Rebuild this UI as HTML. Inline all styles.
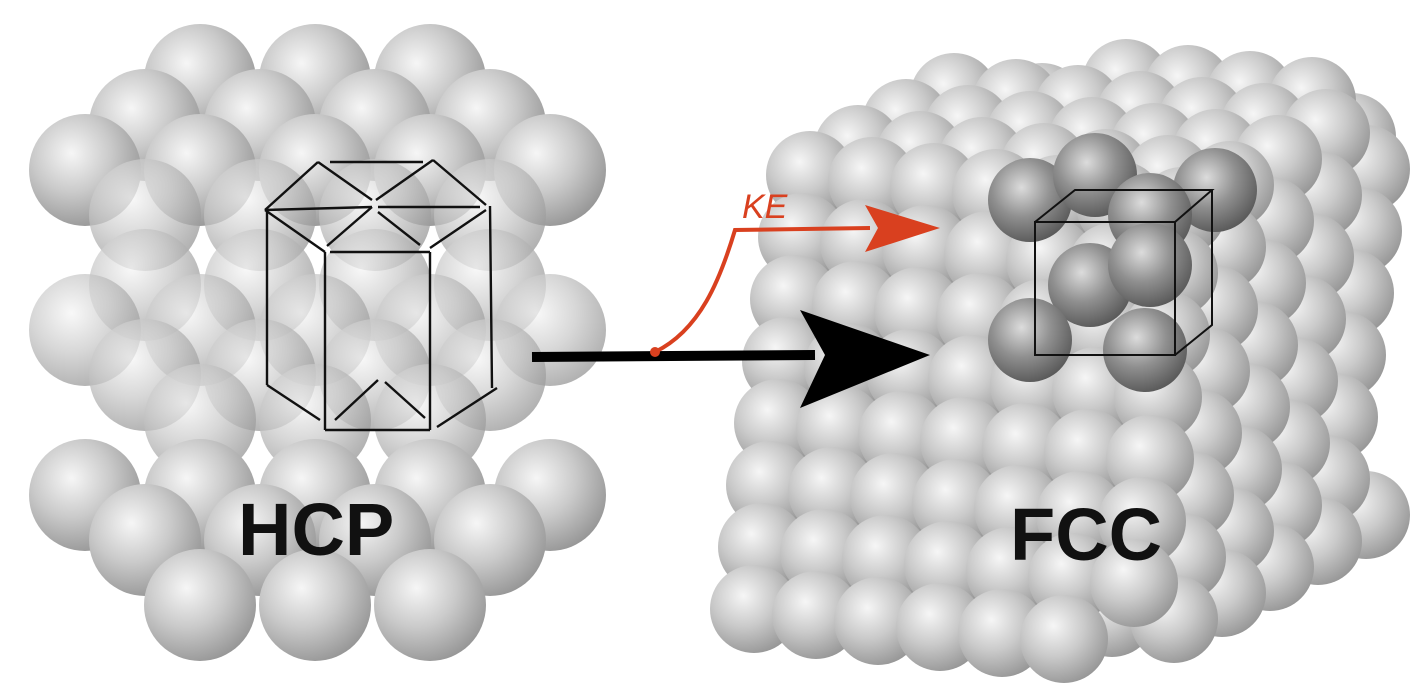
<!DOCTYPE html>
<html><head><meta charset="utf-8"><style>
html,body{margin:0;padding:0;background:#fff;width:1427px;height:700px;overflow:hidden}
svg{display:block}
</style></head><body>
<svg id="fig" width="1427" height="700" viewBox="0 0 1427 700" xmlns="http://www.w3.org/2000/svg">
<defs>
<radialGradient id="sph" cx="0.38" cy="0.35" r="0.7">
<stop offset="0" stop-color="#f6f6f6"/><stop offset="0.5" stop-color="#cacaca"/><stop offset="1" stop-color="#959595"/>
</radialGradient>
<radialGradient id="sphd" cx="0.4" cy="0.35" r="0.7">
<stop offset="0" stop-color="#dcdcdc"/><stop offset="0.5" stop-color="#909090"/><stop offset="1" stop-color="#555"/>
</radialGradient>
</defs>
<g id="hcp"></g>
<g id="fcc"></g>
<g stroke="#111" stroke-width="2.4" fill="none">
<path d="M330 162 L423 162"/>
<path d="M318 162 L265 210 M318 162 L372 200 M433 160 L376 200 M433 160 L486 205"/>
<path d="M265 210 L372 207 M378 207 L480 207"/>
<path d="M372 207 L327 246 M378 212 L420 245 M486 210 L430 248"/>
<path d="M265 210 L325 252 M330 252 L430 252"/>
<path d="M267 212 L267 385 M325 252 L325 430 M430 252 L430 430 M490 206 L492 388"/>
<path d="M267 385 L320 420 M325 430 L430 430 M437 427 L497 388"/>
<path d="M335 420 L378 380 M385 382 L425 418"/>
</g>
<g stroke="#111" stroke-width="2" fill="none">
<path d="M1035 222 L1175 222 L1175 355 L1035 355 Z"/>
<path d="M1035 222 L1075 190 L1212 190 L1175 222 M1212 190 L1212 325 L1175 355"/>
</g>
<g>
<line x1="532" y1="357" x2="815" y2="355" stroke="#000" stroke-width="10"/>
<path d="M800 310 L930 355 L800 408 L825 355 Z" fill="#000"/>
</g>
<g>
<path d="M655 352 C700 330 720 280 735 230 L870 228" stroke="#d9401f" stroke-width="4" fill="none"/>
<path d="M865 205 L940 228 L865 252 L878 228 Z" fill="#d9401f"/>
<circle cx="655" cy="352" r="5" fill="#d9401f"/>
<text x="742" y="218" font-family="Liberation Sans, sans-serif" font-style="italic" font-size="34" fill="#d9401f">KE</text>
</g>
<text x="238" y="555" font-family="Liberation Sans, sans-serif" font-weight="bold" font-size="74" fill="#111">HCP</text>
<text x="1010" y="560" font-family="Liberation Sans, sans-serif" font-weight="bold" font-size="74" fill="#111">FCC</text>
</svg>
<script>
const NS="http://www.w3.org/2000/svg";
const hcpRowsY=[80,125,170,215,285,330,375,420,495,540,605];
const hcpRowsX=[[200,315,430],[145,260,375,490],[85,200,315,430,550],[145,260,375,490],[145,260,375,490],[85,200,315,430,550],[145,260,375,490],[200,315,430],[85,200,315,430,550],[145,260,375,490],[200,315,430]];
const hcp=document.getElementById('hcp');
hcpRowsY.forEach((y,r)=>hcpRowsX[r].forEach(x=>{
 const c=document.createElementNS(NS,'circle');
 c.setAttribute('cx',x);c.setAttribute('cy',y);c.setAttribute('r',56);
 c.setAttribute('fill','url(#sph)');c.setAttribute('fill-opacity',(r>=3&&r<=7)?0.75:1);
 
 
 hcp.appendChild(c);
}));
const fcc=document.getElementById('fcc');
const darkAtoms=[[1030,200],[1095,175],[1215,190],[1150,215],[1090,285],[1150,265],[1030,340],[1145,350]];
for(let k=5;k>=0;k--){
 for(let j=0;j<8;j++){
  for(let i=0;i<7;i++){
   const x=810+i*62+k*48-j*8, y=175+j*62-k*26+i*6;
   if(x>1370||y>640||y<80) continue;
   const c=document.createElementNS(NS,'circle');
   c.setAttribute('cx',x);c.setAttribute('cy',y);c.setAttribute('r',44);
   c.setAttribute('fill','url(#sph)');
   
   
   fcc.appendChild(c);
  }
 }
}
darkAtoms.forEach(p=>{
 const c=document.createElementNS(NS,'circle');
 c.setAttribute('cx',p[0]);c.setAttribute('cy',p[1]);c.setAttribute('r',42);
 c.setAttribute('fill','url(#sphd)');
 
 
 fcc.appendChild(c);
});
</script>
</body></html>
